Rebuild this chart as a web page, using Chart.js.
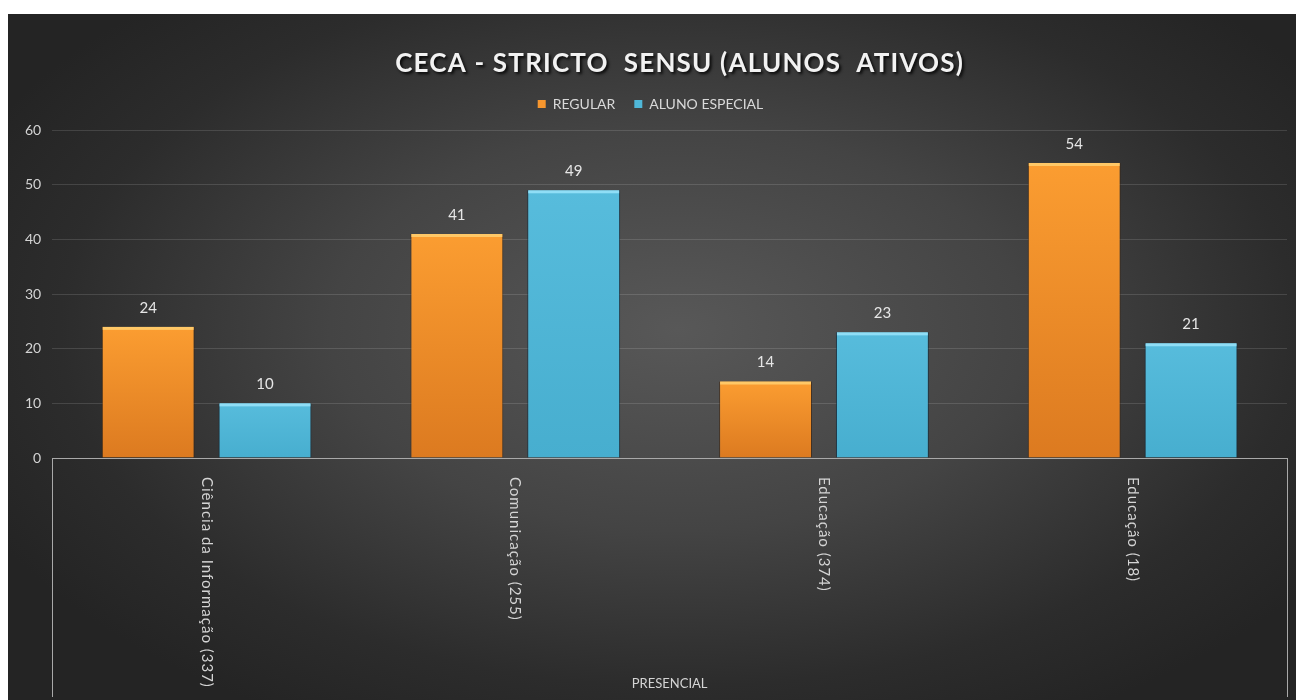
<!DOCTYPE html>
<html>
<head>
<meta charset="utf-8">
<script src="https://cdn.jsdelivr.net/npm/chart.js@4"></script>
<style>
  html, body { margin: 0; padding: 0; background: #ffffff; }
  #wrap {
    position: absolute; left: 8px; top: 14px; width: 1288px; height: 686px;
    background: radial-gradient(ellipse 60% 65% at 52% 46%, #585858 0%, #444444 45%, #2c2c2c 80%, #242424 100%);
  }
</style>
</head>
<body>
<div id="wrap"><canvas id="ceca"></canvas></div>
<script>
// chart values
const categories = ['Ciência da Informação (337)', 'Comunicação (255)', 'Educação (374)', 'Educação (18)'];
const regular = [24, 41, 14, 54];
const alunoEspecial = [10, 49, 23, 21];
const seriesNames = ['REGULAR', 'ALUNO ESPECIAL'];
const groupLabel = 'PRESENCIAL';
const chartTitle = 'CECA - STRICTO  SENSU (ALUNOS  ATIVOS)';
const yMax = 60;
const yStep = 10;

const FONT = 'Lato, "Open Sans", sans-serif';

function barGradient(top, bottom) {
    return function (ctx) {
        const chart = ctx.chart;
        const y = chart.scales.y;
        if (!y || ctx.raw === undefined) return top;
        const y0 = y.getPixelForValue(0);
        const y1 = y.getPixelForValue(ctx.raw);
        if (!isFinite(y0) || !isFinite(y1) || y0 === y1) return top;
        const g = chart.ctx.createLinearGradient(0, y1, 0, y0);
        g.addColorStop(0, top);
        g.addColorStop(1, bottom);
        return g;
    };
}

// title, value labels, rotated category labels, group label and bevels
const decorations = {
    id: 'decorations',
    afterDatasetsDraw(chart) {
        const ctx = chart.ctx;
        const bevel = ['rgba(255,205,110,0.9)', 'rgba(150,225,248,0.9)'];
        ctx.save();
        chart.data.datasets.forEach((ds, di) => {
            chart.getDatasetMeta(di).data.forEach((bar, i) => {
                const left = bar.x - bar.width / 2;
                ctx.fillStyle = bevel[di];
                ctx.fillRect(left + 1, bar.y, bar.width - 2, 3);
                ctx.fillStyle = '#e6e6e6';
                ctx.font = '15px ' + FONT;
                ctx.textAlign = 'center';
                ctx.textBaseline = 'middle';
                ctx.fillText(ds.data[i], bar.x, bar.y - 19);
            });
        });
        ctx.restore();
    },
    afterDraw(chart) {
        const ctx = chart.ctx;
        const area = chart.chartArea;
        const x = chart.scales.x;
        const h = chart.height;
        ctx.save();
        // title
        ctx.shadowColor = 'rgba(0,0,0,0.85)';
        ctx.shadowOffsetX = 2;
        ctx.shadowOffsetY = 2;
        ctx.shadowBlur = 3;
        ctx.fillStyle = '#f2f2f2';
        ctx.font = 'bold 26px ' + FONT;
        ctx.letterSpacing = '1.2px';
        ctx.textAlign = 'center';
        ctx.textBaseline = 'middle';
        ctx.fillText(chartTitle, (area.left + area.right) / 2 + 10, 50);
        ctx.restore();

        ctx.save();
        // frame lines of the category axis
        ctx.strokeStyle = '#a9a9a9';
        ctx.lineWidth = 1;
        ctx.beginPath();
        ctx.moveTo(Math.round(area.left) + 0.5, area.bottom);
        ctx.lineTo(Math.round(area.left) + 0.5, h - 3);
        ctx.moveTo(Math.round(area.right) + 0.5, area.bottom);
        ctx.lineTo(Math.round(area.right) + 0.5, h - 3);
        ctx.stroke();
        // rotated category labels
        ctx.fillStyle = '#d4d4d4';
        ctx.font = '15px ' + FONT;
        ctx.letterSpacing = '1px';
        ctx.textAlign = 'left';
        ctx.textBaseline = 'middle';
        categories.forEach((c, i) => {
            ctx.save();
            ctx.translate(x.getPixelForValue(i), area.bottom + 19);
            ctx.rotate(Math.PI / 2);
            ctx.fillText(c, 0, 0);
            ctx.restore();
        });
        // group label
        ctx.letterSpacing = '0px';
        ctx.font = '13px ' + FONT;
        ctx.textAlign = 'center';
        ctx.fillText(groupLabel, (area.left + area.right) / 2, h - 16);
        ctx.restore();
    }
};

new Chart(document.getElementById('ceca'), {
    type: 'bar',
    data: {
        labels: categories,
        datasets: [{
            label: seriesNames[0],
            data: regular,
            backgroundColor: barGradient('#fb9d31', '#dc7a20'),
            borderColor: 'rgba(60,30,0,0.55)',
            borderWidth: { left: 1, right: 1, top: 0, bottom: 0 },
            categoryPercentage: 0.757,
            barPercentage: 0.795
        }, {
            label: seriesNames[1],
            data: alunoEspecial,
            backgroundColor: barGradient('#57bcdc', '#47aecf'),
            borderColor: 'rgba(10,40,60,0.7)',
            borderWidth: { left: 1, right: 1, top: 0, bottom: 0 },
            categoryPercentage: 0.757,
            barPercentage: 0.795
        }]
    },
    options: {
        responsive: true,
        maintainAspectRatio: false,
        animation: false,
        layout: { padding: { top: 64, left: 6, right: 9, bottom: 234 } },
        plugins: {
            legend: {
                position: 'top',
                labels: {
                    color: '#d9d9d9',
                    font: { family: FONT, size: 14 },
                    boxWidth: 8,
                    boxHeight: 8,
                    padding: 19,
                    generateLabels(chart) {
                        const cols = ['#f7962e', '#4fb7d8'];
                        return chart.data.datasets.map((ds, i) => ({
                            text: ds.label, fillStyle: cols[i], strokeStyle: cols[i],
                            lineWidth: 0, fontColor: '#d9d9d9', datasetIndex: i
                        }));
                    }
                }
            },
            // empty spacer below the legend
            subtitle: {
                display: true,
                text: ' ',
                position: 'top',
                weight: 500,
                font: { size: 1 },
                padding: { top: 0, bottom: 8 }
            },
            title: { display: false },
            tooltip: { enabled: false }
        },
        scales: {
            x: {
                grid: { display: false },
                border: { display: true, color: '#a9a9a9' },
                ticks: { display: false }
            },
            y: {
                min: 0,
                max: yMax,
                border: { display: false },
                grid: { color: 'rgba(255,255,255,0.13)', drawTicks: false },
                ticks: {
                    stepSize: yStep,
                    padding: 11,
                    color: '#d4d4d4',
                    font: { family: FONT, size: 14 }
                }
            }
        }
    },
    plugins: [decorations]
});
</script>
</body>
</html>
